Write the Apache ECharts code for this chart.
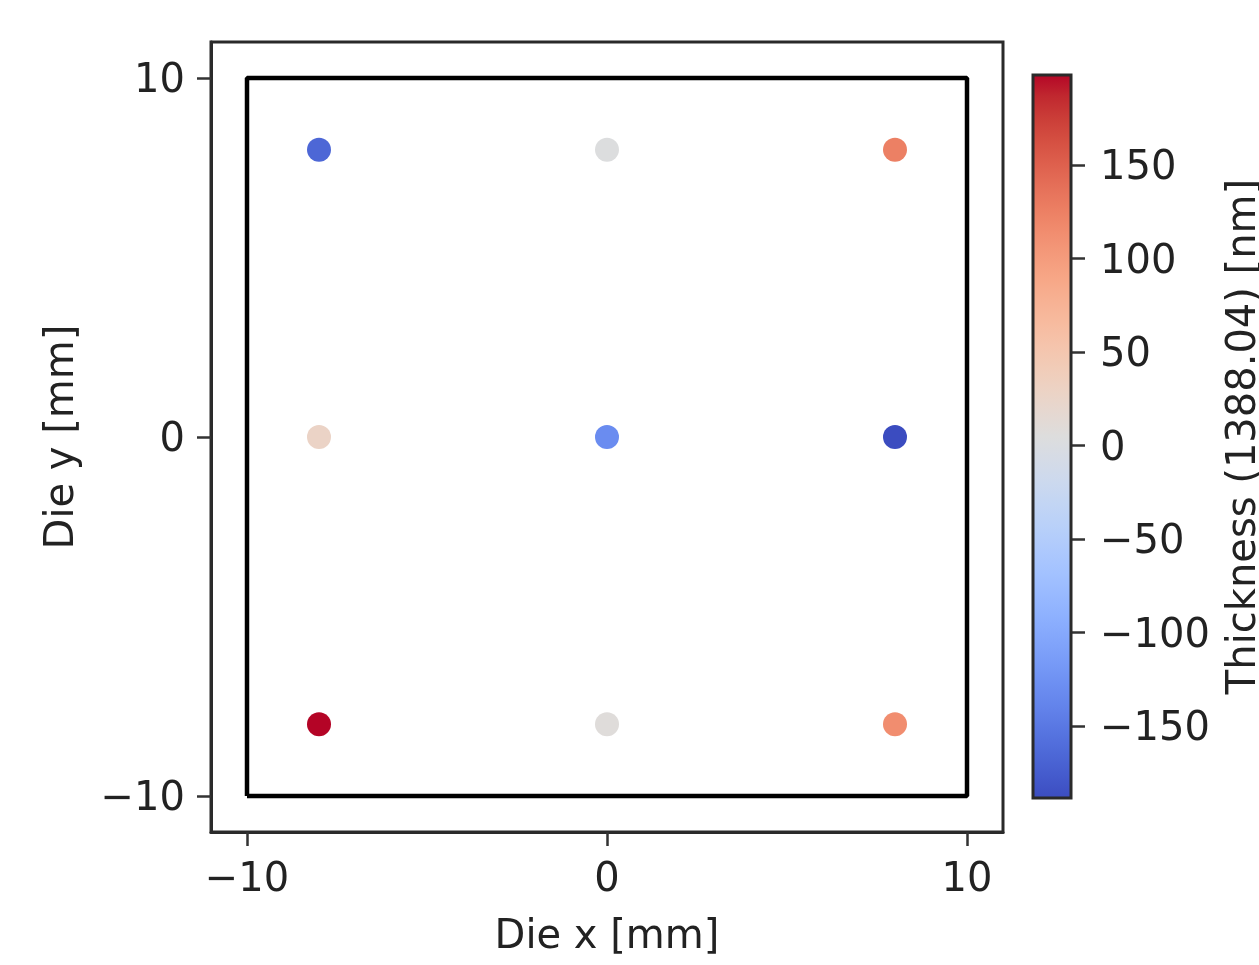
<!DOCTYPE html>
<html>
<head>
<meta charset="utf-8">
<script src="https://cdn.jsdelivr.net/npm/echarts@6/dist/echarts.min.js"></script>
<style>html,body{margin:0;padding:0;background:#fff}#c{width:1259px;height:965px}</style>
</head>
<body>
<div id="c"></div>
<script>
// Data
const dieX = [-8, 0, 8, -8, 0, 8, -8, 0, 8];
const dieY = [8, 8, 8, 0, 0, 0, -8, -8, -8];
const thickness = [-165, 3, 125, 28, -130, -188.5, 198, 8, 113];
const dieOutlineX = [-10, 10, 10, -10, -10];
const dieOutlineY = [-10, -10, 10, 10, -10];
const axisTicks = [-10, 0, 10];
const cbarTicks = [-150, -100, -50, 0, 50, 100, 150];
const cbarMin = -188.5;
const cbarMax = 198;
const xName = 'Die x [mm]';
const yName = 'Die y [mm]';
const cbarName = 'Thickness (1388.04) [nm]';
// coolwarm colormap
const coolwarm = [
  [59,76,192],[68,90,204],[77,104,215],[87,117,225],[98,130,234],[108,142,241],[119,154,247],[130,165,251],
  [141,176,254],[152,185,255],[163,194,255],[174,201,253],[184,208,249],[194,213,244],[204,217,238],[213,219,230],
  [221,221,221],[229,216,209],[236,211,197],[241,204,184],[245,196,172],[247,187,159],[247,177,147],[247,166,134],
  [244,154,123],[241,141,111],[236,127,99],[229,112,89],[222,96,77],[213,80,66],[203,62,56],[192,40,47],[180,4,38]
].map(c => 'rgb(' + c.join(',') + ')');

const FONT = 'DejaVu Sans';
const TXT = '#222';
const fmt = v => String(v).replace('-', '\u2212');
const fmtShift = v => '{a|' + fmt(v) + '}';
const richShift = { a: { fontSize: 40, color: TXT, fontFamily: FONT, padding: [8, 0, 0, 0] } };
const tickStyle = { color: '#333', width: 2.5 };
const lineStyle = { color: '#2a2a2a', width: 3 };

const scatterData = dieX.map((x, i) => [x, dieY[i], thickness[i]]);
const outlineData = dieOutlineX.map((x, i) => [x, dieOutlineY[i]]);

const chart = echarts.init(document.getElementById('c'));
chart.setOption({
  animation: false,
  backgroundColor: '#fff',
  textStyle: { fontFamily: FONT },
  grid: [
    { left: 211, top: 42, width: 792, height: 790, show: true, borderColor: '#2a2a2a', borderWidth: 3, backgroundColor: 'transparent', containLabel: false, outerBoundsMode: 'none' },
    { left: 1033, top: 75, width: 38, height: 723, show: false, containLabel: false, outerBoundsMode: 'none' }
  ],
  xAxis: [
    {
      type: 'value', gridIndex: 0, min: -11, max: 11,
      name: xName, nameLocation: 'middle', nameGap: 86,
      nameTextStyle: { fontSize: 40, color: TXT, fontFamily: FONT },
      axisLine: { show: true, onZero: false, lineStyle: lineStyle }, splitLine: { show: false },
      axisTick: { show: true, customValues: axisTicks, length: 14, lineStyle: tickStyle },
      axisLabel: { customValues: axisTicks, fontSize: 40, color: TXT, margin: 29, fontFamily: FONT, formatter: fmt }
    },
    { type: 'value', gridIndex: 1, min: 0, max: 1, show: false }
  ],
  yAxis: [
    {
      type: 'value', gridIndex: 0, min: -11, max: 11,
      name: yName, nameLocation: 'middle', nameGap: 128, nameRotate: 90,
      nameTextStyle: { fontSize: 40, color: TXT, fontFamily: FONT },
      axisLine: { show: true, onZero: false, lineStyle: lineStyle }, splitLine: { show: false },
      axisTick: { show: true, customValues: axisTicks, length: 14, lineStyle: tickStyle },
      axisLabel: { customValues: axisTicks, fontSize: 40, color: TXT, margin: 26, fontFamily: FONT, formatter: fmtShift, rich: richShift }
    },
    {
      type: 'value', gridIndex: 1, min: cbarMin, max: cbarMax, position: 'right',
      name: cbarName, nameLocation: 'middle', nameGap: 154, nameRotate: 90,
      nameTextStyle: { fontSize: 40, color: TXT, fontFamily: FONT },
      axisLine: { show: false, onZero: false }, splitLine: { show: false },
      axisTick: { show: true, customValues: cbarTicks, length: 14, lineStyle: tickStyle },
      axisLabel: { customValues: cbarTicks, fontSize: 40, color: TXT, margin: 29, fontFamily: FONT, formatter: fmtShift, rich: richShift }
    }
  ],
  visualMap: {
    show: false, type: 'continuous', seriesIndex: 1, dimension: 2,
    min: cbarMin, max: cbarMax, inRange: { color: coolwarm }
  },
  series: [
    {
      type: 'line', xAxisIndex: 0, yAxisIndex: 0, data: outlineData,
      showSymbol: false, symbol: 'none', lineStyle: { color: '#000', width: 4.5 }, silent: true
    },
    {
      type: 'scatter', xAxisIndex: 0, yAxisIndex: 0, data: scatterData,
      symbolSize: 24, itemStyle: { opacity: 1 }
    },
    {
      type: 'custom', xAxisIndex: 1, yAxisIndex: 1, data: [[0, cbarMin, 1, cbarMax]],
      silent: true,
      renderItem: function (params, api) {
        const p0 = api.coord([api.value(0), api.value(1)]);
        const p1 = api.coord([api.value(2), api.value(3)]);
        const stops = coolwarm.map((c, i) => ({ offset: i / (coolwarm.length - 1), color: c }));
        return {
          type: 'rect',
          shape: { x: p0[0], y: p1[1], width: p1[0] - p0[0], height: p0[1] - p1[1] },
          style: { fill: new echarts.graphic.LinearGradient(0, 1, 0, 0, stops), stroke: '#2a2a2a', lineWidth: 3 }
        };
      }
    }
  ]
});
</script>
</body>
</html>
